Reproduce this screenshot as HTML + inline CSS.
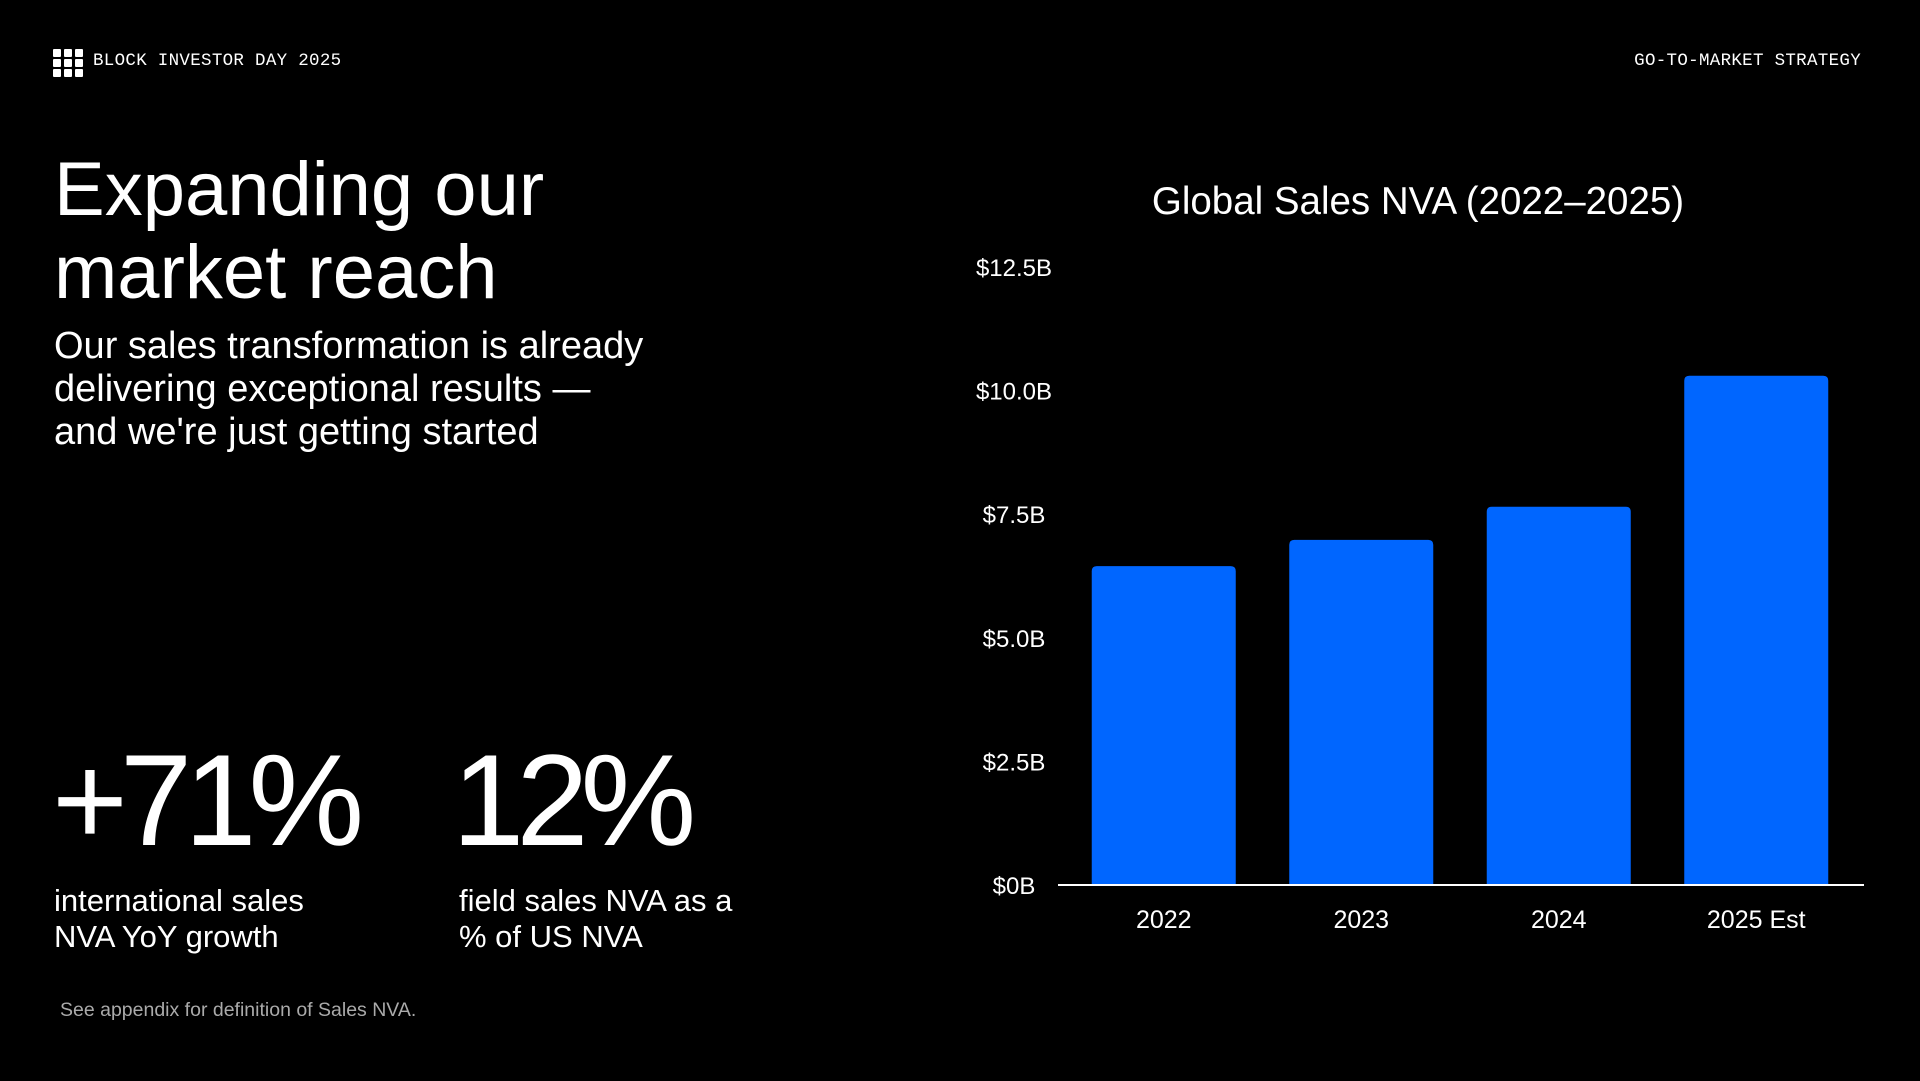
<!DOCTYPE html>
<html><head><meta charset="utf-8"><style>
html,body{margin:0;padding:0;background:#000;}
body{width:1920px;height:1081px;position:relative;overflow:hidden;color:#fff;font-family:"Liberation Sans",sans-serif;}
.abs{position:absolute;white-space:nowrap;}
.mono{font-family:"Liberation Mono",monospace;font-size:17.5px;letter-spacing:0.3px;}
</style></head><body>
<svg class="abs" style="left:53px;top:49px" width="30" height="28">
<g fill="#fff">
<rect x="0" y="0" width="8" height="8" rx="1"/><rect x="11" y="0" width="8" height="8" rx="1"/><rect x="22" y="0" width="8" height="8" rx="1"/>
<rect x="0" y="10" width="8" height="8" rx="1"/><rect x="11" y="10" width="8" height="8" rx="1"/><rect x="22" y="10" width="8" height="8" rx="1"/>
<rect x="0" y="20" width="8" height="8" rx="1"/><rect x="11" y="20" width="8" height="8" rx="1"/><rect x="22" y="20" width="8" height="8" rx="1"/>
</g></svg>
<div class="abs mono" style="left:93px;top:51px">BLOCK INVESTOR DAY 2025</div>
<div class="abs mono" style="right:59px;top:51px">GO-TO-MARKET STRATEGY</div>

<div class="abs" style="left:54px;top:148px;font-size:76px;line-height:83px">Expanding our<br>market reach</div>
<div class="abs" style="left:54px;top:325px;font-size:38px;line-height:43px">Our sales transformation is already<br>delivering exceptional results —<br>and we're just getting started</div>

<div class="abs" style="left:52px;top:732px;font-size:130px;line-height:136px;letter-spacing:-8px">+71%</div>
<div class="abs" style="left:54px;top:883px;font-size:31px;line-height:36px">international sales<br>NVA YoY growth</div>
<div class="abs" style="left:452px;top:732px;font-size:130px;line-height:136px;letter-spacing:-8px">12%</div>
<div class="abs" style="left:459px;top:883px;font-size:31px;line-height:36px">field sales NVA as a<br>% of US NVA</div>
<div class="abs" style="left:60px;top:999px;font-size:19.5px;color:#aaa">See appendix for definition of Sales NVA.</div>

<svg id="chart" class="abs" style="left:0;top:0" width="1920" height="1081"></svg>
<script>
const categories=["2022","2023","2024","2025 Est"];
const values=[6.45,6.98,7.65,10.3];
const tickValues=[0,2.5,5,7.5,10,12.5];
const tickLabels=["$0B","$2.5B","$5.0B","$7.5B","$10.0B","$12.5B"];
const NS="http://www.w3.org/2000/svg";
const svg=document.getElementById('chart');
const y0=885,y1=267,vmax=12.5;
const yScale=v=>y0-(v/vmax)*(y0-y1);
const xStart=1065,step=197.5,barW=144;
const xCenter=i=>xStart+step*i+step/2;
function mk(tag,attrs){const e=document.createElementNS(NS,tag);for(const k in attrs)e.setAttribute(k,attrs[k]);svg.appendChild(e);return e;}
let t=mk('text',{x:1418,y:214,'text-anchor':'middle','font-size':38.5,fill:'#fff','font-family':'Liberation Sans, sans-serif'});
t.textContent="Global Sales NVA (2022–2025)";


tickValues.forEach((v,i)=>{
  const l=mk('text',{x:1014,y:yScale(v)+9,'text-anchor':'middle','font-size':24,fill:'#fff','font-family':'Liberation Sans, sans-serif'});
  l.textContent=tickLabels[i];
  
  
});
values.forEach((v,i)=>{
  const x=xCenter(i)-barW/2,y=yScale(v);
  const p=mk('path',{d:`M${x},${y0} L${x},${y+5} Q${x},${y} ${x+5},${y} L${x+barW-5},${y} Q${x+barW},${y} ${x+barW},${y+5} L${x+barW},${y0} Z`,fill:'#0066ff'});
  
  
  const l=mk('text',{x:xCenter(i),y:928,'text-anchor':'middle','font-size':25,fill:'#fff','font-family':'Liberation Sans, sans-serif'});
  l.textContent=categories[i];
  
  
});
const ax=mk('line',{x1:1058,x2:1864,y1:y0,y2:y0,stroke:'#fff','stroke-width':2});


</script>
</body></html>
